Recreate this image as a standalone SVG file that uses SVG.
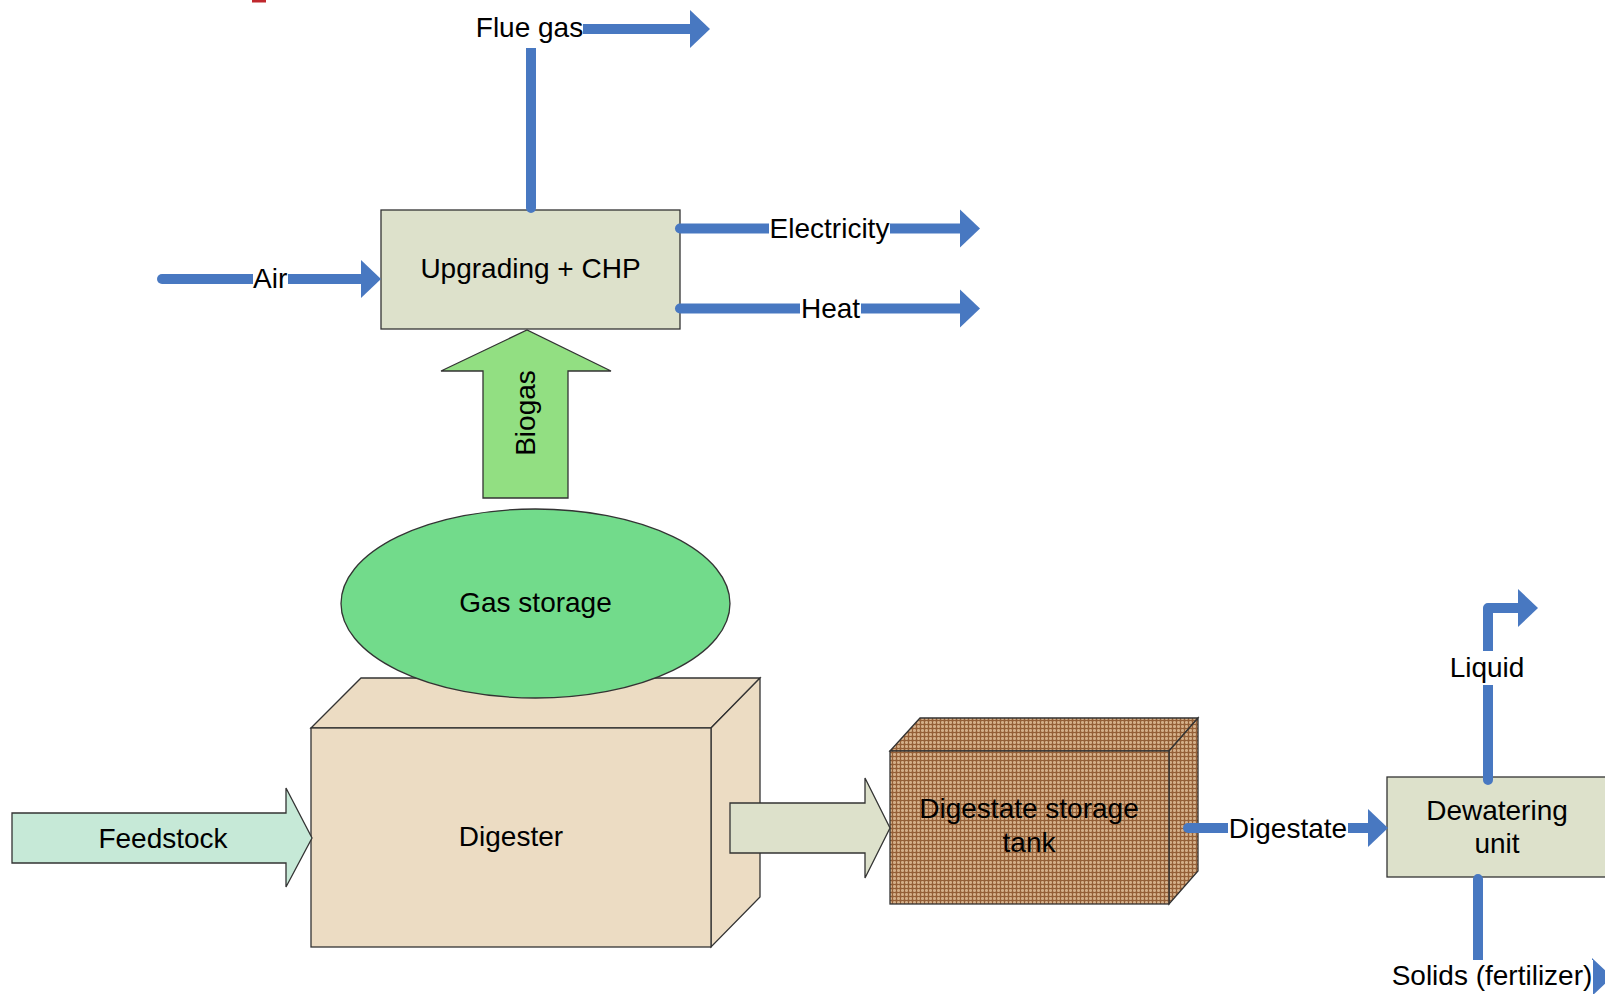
<svg xmlns="http://www.w3.org/2000/svg" width="1605" height="994" viewBox="0 0 1605 994">
<style>
text{font-family:"Liberation Sans",Arial,sans-serif;font-size:28px;fill:#000}
.c{text-anchor:middle}
.shape{stroke:#333;stroke-width:1.3}
.flow{fill:none;stroke:#4878c1;stroke-width:10;stroke-linecap:round;stroke-linejoin:round}
.lbl{fill:#fff}
</style>
<defs>
<marker id="head" markerUnits="userSpaceOnUse" markerWidth="21" markerHeight="40" refX="0" refY="19" orient="auto" viewBox="0 0 21 40" overflow="visible">
<path d="M0,0 L20,19 L0,38 Z" fill="#4878c1"/>
</marker>
<pattern id="plaid" width="4" height="4" patternUnits="userSpaceOnUse">
<rect width="4" height="4" fill="#bf956d"/>
<rect x="2" width="1" height="4" fill="#d3ae88"/>
<rect y="2" width="4" height="1" fill="#d3ae88"/>
<rect width="1" height="4" fill="#945f37"/>
<rect width="4" height="1" fill="#945f37"/>
</pattern>
</defs>
<rect x="252" y="0" width="14" height="2.5" fill="#c0282d"/>

<g id="digester">
<polygon class="shape" points="311,728 361,678 760,678 711,728" fill="#ecdcc3"/>
<polygon class="shape" points="711,728 760,678 760,897 711,947" fill="#ecdcc3"/>
<rect class="shape" x="311" y="728" width="400" height="219" fill="#ecdcc3"/>
<text class="c" x="511" y="846">Digester</text>
</g>

<g id="gas-storage">
<ellipse class="shape" cx="535.5" cy="603.5" rx="194.5" ry="94.5" fill="#72db8b"/>
<text class="c" x="535.5" y="612">Gas storage</text>
</g>

<g id="upgrading-chp">
<rect class="shape" x="381" y="210" width="299" height="119" fill="#dde1cb"/>
<text class="c" x="530.5" y="278">Upgrading + CHP</text>
</g>

<g id="digestate-tank">
<polygon class="shape" points="890,751 920,718 1198,718 1169,751" fill="url(#plaid)"/>
<polygon class="shape" points="1169,751 1198,718 1198,871 1169,904" fill="url(#plaid)"/>
<rect class="shape" x="890" y="751" width="279" height="153" fill="url(#plaid)"/>
<text class="c" x="1029" y="818">Digestate storage</text>
<text class="c" x="1029" y="852">tank</text>
</g>

<g id="dewatering">
<rect class="shape" x="1387" y="777" width="222" height="100" fill="#dde1cb"/>
<text class="c" x="1497" y="820">Dewatering</text>
<text class="c" x="1497" y="853">unit</text>
</g>

<g id="connectors">
<g id="feedstock-arrow">
<polygon class="shape" points="12,813 286,813 286,788 312,838 286,887 286,863 12,863" fill="#c6e9d7"/>
<text class="c" x="163" y="848">Feedstock</text>
</g>
<g id="digestate-arrow">
<polygon class="shape" points="730,803 865,803 865,778 890,828 865,878 865,853 730,853" fill="#dde1cb"/>
</g>
<g id="biogas-arrow">
<polygon class="shape" points="483,498 483,371 441,371 527,330 611,371 568,371 568,498" fill="#92df82"/>
<text class="c" transform="translate(535,413) rotate(-90)">Biogas</text>
</g>

<path class="flow" d="M162,279 L361,279" marker-end="url(#head)"/>
<rect class="lbl" x="253" y="262" width="35" height="34"/>
<text x="253" y="288">Air</text>

<path class="flow" d="M531,208 L531,29 L690,29" marker-end="url(#head)"/>
<rect class="lbl" x="476" y="8" width="107" height="40"/>
<text class="c" x="529.5" y="37">Flue gas</text>

<path class="flow" d="M680,228.5 L960,228.5" marker-end="url(#head)"/>
<rect class="lbl" x="769" y="212" width="121" height="34"/>
<text class="c" x="829.5" y="238">Electricity</text>

<path class="flow" d="M680,308.5 L960,308.5" marker-end="url(#head)"/>
<rect class="lbl" x="800" y="292" width="61" height="34"/>
<text class="c" x="830.5" y="318">Heat</text>

<path class="flow" d="M1188,828 L1368,828" marker-end="url(#head)"/>
<rect class="lbl" x="1228" y="811" width="120" height="34"/>
<text class="c" x="1288" y="838">Digestate</text>

<path class="flow" d="M1488,780 L1488,608 L1518,608" marker-end="url(#head)"/>
<rect class="lbl" x="1448" y="651" width="78" height="34"/>
<text class="c" x="1487" y="677">Liquid</text>

<path class="flow" d="M1478,879 L1478,977 L1592,977" marker-end="url(#head)"/>
<rect class="lbl" x="1390" y="960" width="203" height="34"/>
<text class="c" x="1492" y="985">Solids (fertilizer)</text>
</g>
</svg>
